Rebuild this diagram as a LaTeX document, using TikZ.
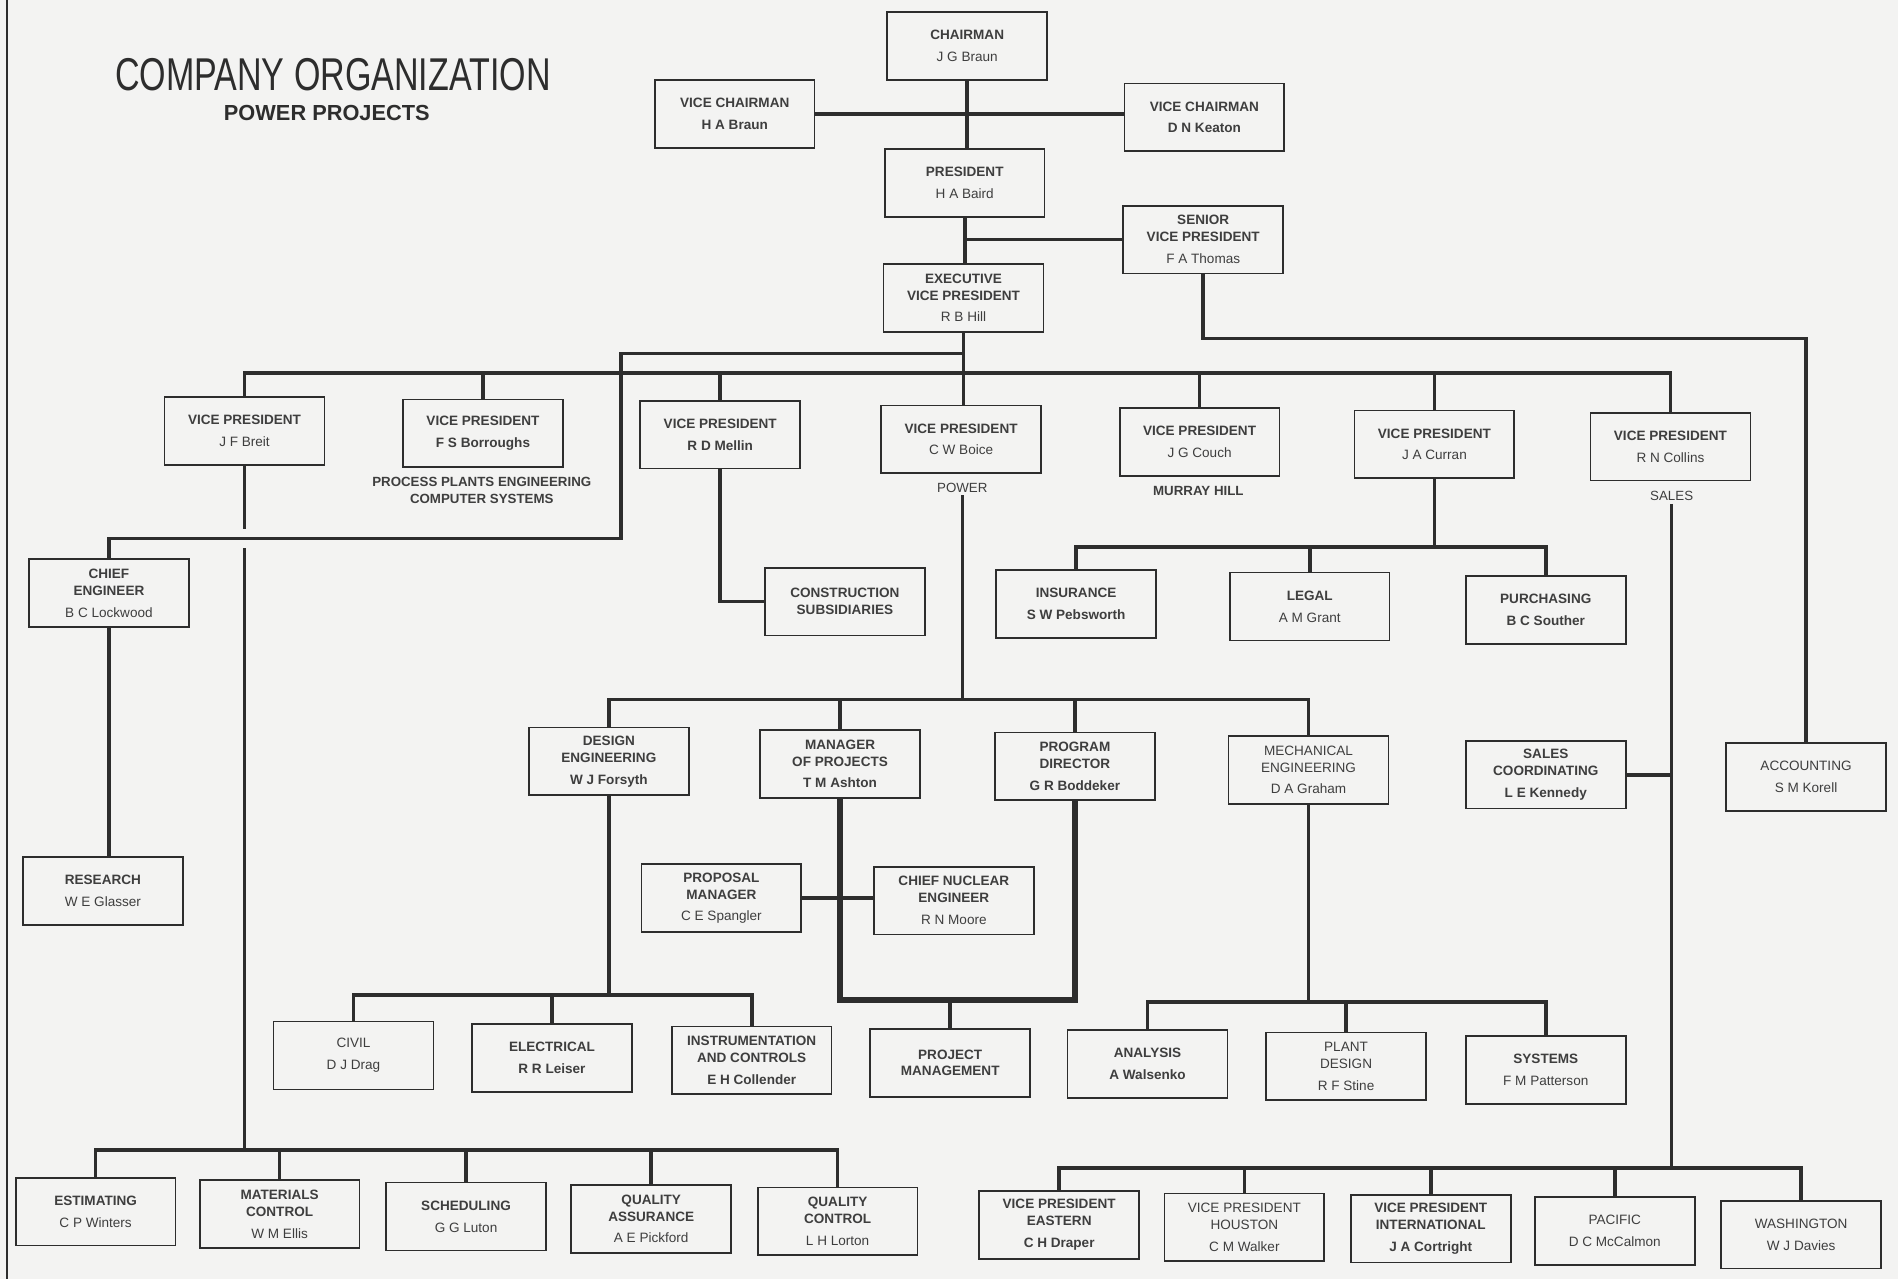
\documentclass[tikz,border=0pt]{standalone}
\usepackage{fontspec}
\setmainfont{Liberation Sans}
\newfontfamily\titlefont[FakeStretch=0.74]{Liberation Sans}
\usepackage{tikz}
\usetikzlibrary{positioning}

\definecolor{inkc}{RGB}{45,45,45}
\definecolor{txtc}{RGB}{62,62,62}
\definecolor{papc}{RGB}{243,243,242}
\newcommand{\pname}[1]{{\mdseries #1}}

\begin{document}
\begin{tikzpicture}[x=0.5pt,y=0.5pt,yscale=-1,xscale=1,
  box/.style={draw=inkc,line width=0.7pt,minimum width=66pt,minimum height=28pt,
    align=center,inner sep=1pt,text=txtc,font=\fontsize{5.6}{7}\selectfont\bfseries},
  captxt/.style={align=center,inner sep=1pt,text=txtc,font=\fontsize{5.5}{7}\selectfont\bfseries},
  conn/.style={draw=inkc,line width=1.5pt},
  hop/.style={preaction={draw=papc,line width=8pt}}]
%set diagram size 1568 x 1057
\fill [papc] (0,0) rectangle (1568,1057);
\useasboundingbox (0,0) rectangle (1568,1057);
\draw [inkc,line width=0.8pt] (6,0) -- (6,1057);

% Title
\draw (275,62) node [text=inkc,font=\titlefont\fontsize{19}{22}\selectfont] (title) {COMPANY ORGANIZATION};
\draw (270,93) node [text=inkc,font=\fontsize{9}{11}\selectfont\bfseries] (subtitle) {POWER PROJECTS};

%Shape: Rectangle -- top management
\draw (799,38) node [box] (chair) {CHAIRMAN\\[2pt]\pname{J G Braun}};
\draw (607,94) node [box] (vcl) {VICE CHAIRMAN\\[2pt]H A Braun};
\draw (995,97) node [box] (vcr) {VICE CHAIRMAN\\[2pt]D N Keaton};
\draw (797,151) node [box] (pres) {PRESIDENT\\[2pt]\pname{H A Baird}};
\draw (994,198) node [box] (svp) {SENIOR\\VICE PRESIDENT\\[2pt]\pname{F A Thomas}};
\draw (796,246) node [box] (exec) {EXECUTIVE\\VICE PRESIDENT\\[2pt]\pname{R B Hill}};

%Shape: Rectangle -- vice presidents
\draw (202,356) node [box] (breit) {VICE PRESIDENT\\[2pt]\pname{J F Breit}};
\draw (399,358) node [box] (borr) {VICE PRESIDENT\\[2pt]F S Borroughs};
\draw (595,359) node [box] (mellin) {VICE PRESIDENT\\[2pt]R D Mellin};
\draw (794,363) node [box] (boice) {VICE PRESIDENT\\[2pt]\pname{C W Boice}};
\draw (991,365) node [box] (couch) {VICE PRESIDENT\\[2pt]\pname{J G Couch}};
\draw (1185,367) node [box] (curran) {VICE PRESIDENT\\[2pt]\pname{J A Curran}};
\draw (1380,369) node [box] (collins) {VICE PRESIDENT\\[2pt]\pname{R N Collins}};

% Text Node
\draw (398,405) node [captxt] (borrcap) {PROCESS PLANTS ENGINEERING\\COMPUTER SYSTEMS};
\draw (795,403) node [captxt,font=\fontsize{5.5}{7}\selectfont] (powercap) {POWER};
\draw (990,406) node [captxt] (murraycap) {MURRAY HILL};
\draw (1381,410) node [captxt,font=\fontsize{5.5}{7}\selectfont] (salescap) {SALES};

%Shape: Rectangle -- middle level
\draw (90,490) node [box] (chief) {CHIEF\\ENGINEER\\[2pt]\pname{B C Lockwood}};
\draw (85,736) node [box] (research) {RESEARCH\\[2pt]\pname{W E Glasser}};
\draw (698,497) node [box] (cons) {CONSTRUCTION\\SUBSIDIARIES};
\draw (889,499) node [box] (ins) {INSURANCE\\[2pt]S W Pebsworth};
\draw (1082,501) node [box] (legal) {LEGAL\\[2pt]\pname{A M Grant}};
\draw (1277,504) node [box] (purch) {PURCHASING\\[2pt]B C Souther};
\draw (503,629) node [box] (design) {DESIGN\\ENGINEERING\\[2pt]W J Forsyth};
\draw (694,631) node [box] (mgrproj) {MANAGER\\OF PROJECTS\\[2pt]T M Ashton};
\draw (888,633) node [box] (progdir) {PROGRAM\\DIRECTOR\\[2pt]G R Boddeker};
\draw (1081,636) node [box] (mech) {\mdseries MECHANICAL\\\mdseries ENGINEERING\\[2pt]\pname{D A Graham}};
\draw (1277,640) node [box] (salesco) {SALES\\COORDINATING\\[2pt]L E Kennedy};
\draw (1492,642) node [box] (acct) {\mdseries ACCOUNTING\\[2pt]\pname{S M Korell}};
\draw (596,742) node [box] (proposal) {PROPOSAL\\MANAGER\\[2pt]\pname{C E Spangler}};
\draw (788,744) node [box] (cne) {CHIEF NUCLEAR\\ENGINEER\\[2pt]\pname{R N Moore}};

%Shape: Rectangle -- engineering sections
\draw (292,872) node [box] (civil) {\mdseries CIVIL\\[2pt]\pname{D J Drag}};
\draw (456,874) node [box] (elec) {ELECTRICAL\\[2pt]R R Leiser};
\draw (621,876) node [box] (instr) {INSTRUMENTATION\\AND CONTROLS\\[2pt]E H Collender};
\draw (785,878) node [box] (projmgmt) {PROJECT\\MANAGEMENT};
\draw (948,879) node [box] (analysis) {ANALYSIS\\[2pt]A Walsenko};
\draw (1112,881) node [box] (plant) {\mdseries PLANT\\\mdseries DESIGN\\[2pt]\pname{R F Stine}};
\draw (1277,884) node [box] (systems) {SYSTEMS\\[2pt]\pname{F M Patterson}};

%Shape: Rectangle -- bottom row
\draw (79,1001) node [box] (estim) {ESTIMATING\\[2pt]\pname{C P Winters}};
\draw (231,1003) node [box] (matl) {MATERIALS\\CONTROL\\[2pt]\pname{W M Ellis}};
\draw (385,1005) node [box] (sched) {SCHEDULING\\[2pt]\pname{G G Luton}};
\draw (538,1007) node [box] (qa) {QUALITY\\ASSURANCE\\[2pt]\pname{A E Pickford}};
\draw (692,1009) node [box] (qc) {QUALITY\\CONTROL\\[2pt]\pname{L H Lorton}};
\draw (875,1012) node [box] (vpeast) {VICE PRESIDENT\\EASTERN\\[2pt]C H Draper};
\draw (1028,1014) node [box] (vphou) {\mdseries VICE PRESIDENT\\\mdseries HOUSTON\\[2pt]\pname{C M Walker}};
\draw (1182,1015) node [box] (vpint) {VICE PRESIDENT\\INTERNATIONAL\\[2pt]J A Cortright};
\draw (1334,1017) node [box] (pacific) {\mdseries PACIFIC\\[2pt]\pname{D C McCalmon}};
\draw (1488,1020) node [box] (wash) {\mdseries WASHINGTON\\[2pt]\pname{W J Davies}};

% bus points
\coordinate (bus) at (797,308);
\coordinate (ceturn) at (513,292);
\coordinate (lbus) at (204,950);
\coordinate (cbus) at (1187,452);
\coordinate (ebus) at (793,578);
\coordinate (dbus) at (502,822);
\coordinate (pmbus) at (786,826);
\coordinate (mbus) at (1080,828);
\coordinate (rbus) at (1375,965);

% Connectors
\draw [conn] (chair.south) -- (chair.south |- pres.north);
\draw [conn] (vcl.east) -- (vcl.east -| vcr.west);
\draw [conn] (pres.south) -- (pres.south |- exec.north);
\draw [conn] (svp.west) -- (svp.west -| pres.south);
\draw [conn] (svp.south) -- ++(0,53) -| (acct.north);

\draw [conn] (breit.south) -- (breit.south |- lbus);
\draw [conn] (estim.north) |- (lbus) -| (qc.north);
\foreach \n in {matl,sched,qa} {\draw [conn] (\n.north) -- (\n.north |- lbus);}

\draw [conn,hop] (exec.south |- ceturn) -- (ceturn) -- ++(0,153) -| (chief.north);
\draw [conn] (chief.south) -- (chief.south |- research.north);

\draw [conn] (exec.south) -- (exec.south |- boice.north);
\draw [conn] (breit.north) |- (bus) -| (collins.north);
\foreach \n in {borr,mellin,couch,curran} {\draw [conn] (\n.north) -- (\n.north |- bus);}

\draw [conn] (mellin.south) |- (cons.west);

\draw [conn] (curran.south) -- (curran.south |- cbus);
\draw [conn] (ins.north) |- (cbus) -| (purch.north);
\draw [conn] (legal.north) -- (legal.north |- cbus);

\draw [conn] (powercap.south) -- (powercap.south |- ebus);
\draw [conn] (design.north) |- (ebus) -| (mech.north);
\foreach \n in {mgrproj,progdir} {\draw [conn] (\n.north) -- (\n.north |- ebus);}

\draw [conn] (design.south) -- (design.south |- dbus);
\draw [conn] (civil.north) |- (dbus) -| (instr.north);
\draw [conn] (elec.north) -- (elec.north |- dbus);

\draw [conn,line width=2.2pt] (mgrproj.south) |- (pmbus) -| (progdir.south);
\draw [conn] (projmgmt.north) -- (projmgmt.north |- pmbus);
\draw [conn] (proposal.east) -- (proposal.east -| cne.west);

\draw [conn] (mech.south) -- (mech.south |- mbus);
\draw [conn] (analysis.north) |- (mbus) -| (systems.north);
\draw [conn] (plant.north) -- (plant.north |- mbus);

\draw [conn] (salescap.south) -- (salescap.south |- rbus);
\draw [conn] (salesco.east) -- (salesco.east -| salescap.south);
\draw [conn] (vpeast.north) |- (rbus) -| (wash.north);
\foreach \n in {vphou,vpint,pacific} {\draw [conn] (\n.north) -- (\n.north |- rbus);}

\end{tikzpicture}
\end{document}
